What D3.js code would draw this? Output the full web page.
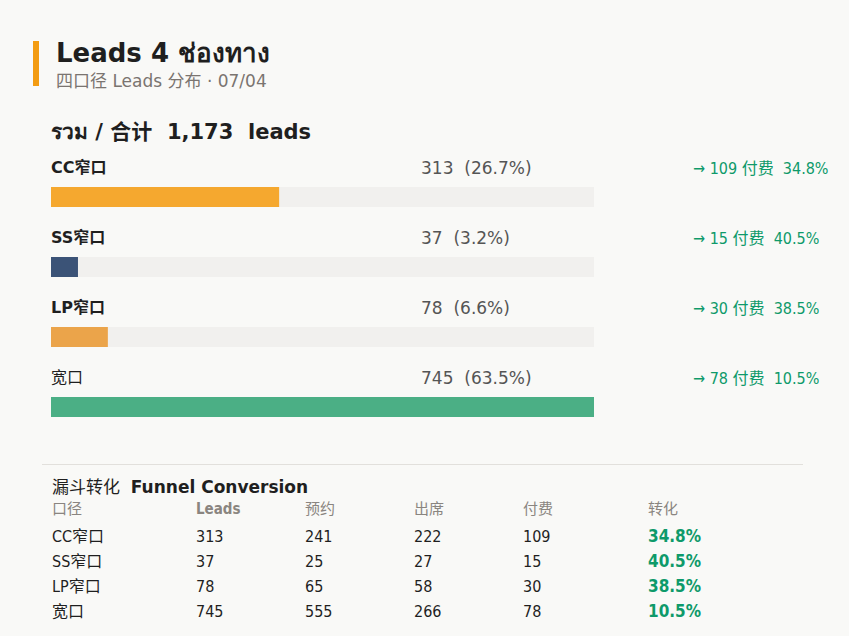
<!DOCTYPE html>
<html>
<head>
<meta charset="utf-8">
<script src="https://d3js.org/d3.v7.min.js"></script>
<style>
  body { margin:0; background:#f9f9f7; }
  text { font-family:"DejaVu Sans","Noto Sans CJK SC",sans-serif; }
  .cond { font-family:"DejaVu Sans Condensed","Noto Sans CJK SC",sans-serif; }
</style>
</head>
<body>
<script>
var channels=["CC窄口","SS窄口","LP窄口","宽口"];
var leads=[313,37,78,745];
var booked=[241,25,65,555];
var attended=[222,27,58,266];
var paid=[109,15,30,78];
var barColors=["#f5a82f","#3b5377","#eba44a","#4baf85"];
var columns=["口径","Leads","预约","出席","付费","转化"];

var width=849,height=636;
var total=d3.sum(leads);
var svg=d3.select("body").append("svg").attr("width",width).attr("height",height);
svg.append("rect").attr("width",width).attr("height",height).attr("fill","#f9f9f7");

svg.append("rect").attr("x",33).attr("y",41).attr("width",6).attr("height",45).attr("fill","#f39c12");
svg.append("text").attr("x",56).attr("y",62).attr("font-size",26).attr("font-weight","bold").attr("fill","#1f1f1f").text("Leads 4 ช่องทาง");
svg.append("text").attr("x",56).attr("y",87).attr("font-size",17).attr("fill","#7a7470").text("四口径 Leads 分布 · 07/04");
svg.append("text").attr("x",51).attr("y",139).attr("font-size",21).attr("font-weight","bold").attr("fill","#1f1f1f")
  .attr("xml:space","preserve").text("รวม / 合计  "+d3.format(",")(total)+"  leads");

var x=d3.scaleLinear().domain([0,d3.max(leads)]).range([0,543]);
var y=d3.scaleBand().domain(channels).range([150,430]);
var pct=d3.format(".1f");

var rows=svg.selectAll(".row").data(channels).enter().append("g")
  .attr("transform",function(d){return "translate(51,"+y(d)+")";});
rows.append("text").attr("y",23).attr("font-size",16).attr("font-weight",function(d,i){return i<3?"bold":"normal";}).attr("fill","#1f1f1f").text(function(d){return d;});
rows.append("text").attr("x",370).attr("y",24).attr("font-size",17).attr("fill","#555").attr("xml:space","preserve")
  .text(function(d,i){return leads[i]+"  ("+pct(leads[i]/total*100)+"%)";});
rows.append("text").attr("class","cond").attr("x",642).attr("y",24).attr("font-size",16).attr("fill","#0e9a6a").attr("xml:space","preserve")
  .text(function(d,i){return "→ "+paid[i]+" 付费  "+pct(paid[i]/leads[i]*100)+"%";});
rows.append("rect").attr("y",37).attr("width",543).attr("height",20).attr("fill","#f1f0ee");
rows.append("rect").attr("y",37).attr("width",function(d,i){return x(leads[i]);}).attr("height",20).attr("fill",function(d,i){return barColors[i];});

svg.append("line").attr("x1",42).attr("x2",803).attr("y1",464.5).attr("y2",464.5).attr("stroke","#e2e0dc");
svg.append("text").attr("x",52).attr("y",493).attr("font-size",17).attr("fill","#1f1f1f").attr("xml:space","preserve")
  .html('漏斗转化  <tspan font-weight="bold">Funnel Conversion</tspan>');

var colX=[52,196,305,414,523,648];
svg.selectAll(".hdr").data(columns).enter().append("text").attr("class","cond")
  .attr("x",function(d,i){return colX[i];}).attr("y",514).attr("font-size",15)
  .attr("font-weight",function(d,i){return i==1?"bold":"normal";}).attr("fill","#8a8580").text(function(d){return d;});

var ry=d3.scalePoint().domain(channels).range([542,617]);
channels.forEach(function(c,i){
  var vals=[c,leads[i],booked[i],attended[i],paid[i],pct(paid[i]/leads[i]*100)+"%"];
  vals.forEach(function(v,j){
    svg.append("text").attr("class","cond").attr("x",colX[j]).attr("y",ry(c)).attr("font-size",j==5?17:16)
      .attr("font-weight",j==5?"bold":"normal").attr("fill",j==5?"#0e9a6a":"#1f1f1f").text(v);
  });
});
</script>
</body>
</html>
